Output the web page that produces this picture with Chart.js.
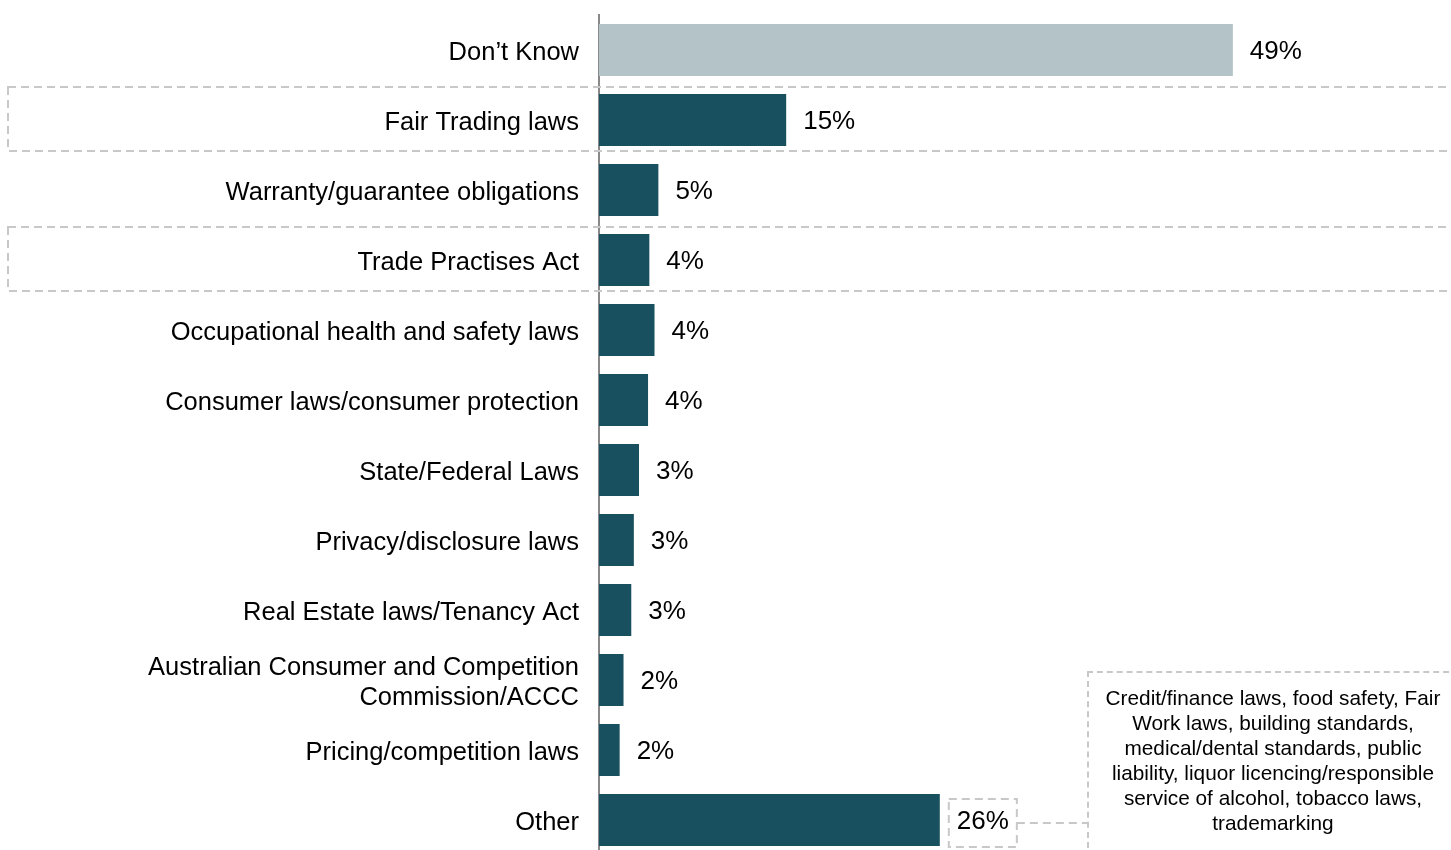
<!DOCTYPE html>
<html>
<head>
<meta charset="utf-8">
<script src="https://cdn.jsdelivr.net/npm/chart.js@4"></script>
<style>
  html, body { margin: 0; padding: 0; background: #fff; overflow: hidden; }
  #wrap { position: relative; width: 1451px; height: 860px; }
  #note {
    position: absolute; left: 1087px; top: 671px; width: 368px; height: 171px;
    border: 2px dashed #c8c8c8; box-sizing: content-box;
    font-family: "Liberation Sans", Arial, sans-serif; font-size: 20.8px; line-height: 25px;
    color: #000; text-align: center; padding-top: 12px; white-space: nowrap;
  }
</style>
</head>
<body>
<div id="wrap">
  <canvas id="chart"></canvas>
  <div id="note">Credit/finance laws, food safety, Fair<br>Work laws, building standards,<br>medical/dental standards, public<br>liability, liquor licencing/responsible<br>service of alcohol, tobacco laws,<br>trademarking</div>
</div>
<script>
// categories, values and their printed labels
const categories = [
  'Don\u2019t Know',
  'Fair Trading laws',
  'Warranty/guarantee obligations',
  'Trade Practises Act',
  'Occupational health and safety laws',
  'Consumer laws/consumer protection',
  'State/Federal Laws',
  'Privacy/disclosure laws',
  'Real Estate laws/Tenancy Act',
  ['Australian Consumer and Competition', 'Commission/ACCC'],
  'Pricing/competition laws',
  'Other'
];
const values = [49.1, 14.5, 4.6, 3.9, 4.3, 3.8, 3.1, 2.7, 2.5, 1.9, 1.6, 26.4];
const valueLabels = ['49%', '15%', '5%', '4%', '4%', '4%', '3%', '3%', '3%', '2%', '2%', '26%'];
const highlightRows = [1, 3];      // rows with a dashed frame
const calloutRow = 11;             // "Other" links to the note box

const DARK = '#19505f';
const GREY = '#b4c3c7';
const DASH = '#c8c8c8';
const FONT = '"Liberation Sans", Arial, sans-serif';

const barColors = values.map((v, i) => i === 0 ? GREY : DARK);

const decorations = {
  id: 'decorations',
  beforeDatasetsDraw(chart) {
    const ctx = chart.ctx;
    const y = chart.scales.y;
    ctx.save();
    ctx.setLineDash([8, 5]);
    ctx.strokeStyle = DASH;
    ctx.lineWidth = 2;
    highlightRows.forEach(i => {
      const c = y.getPixelForValue(i);
      ctx.strokeRect(8, c - 33, chart.width + 10, 64);
    });
    ctx.restore();
  },
  afterDatasetsDraw(chart) {
    const ctx = chart.ctx;
    const meta = chart.getDatasetMeta(0);
    ctx.save();
    ctx.font = '26px ' + FONT;
    ctx.fillStyle = '#000';
    ctx.textBaseline = 'middle';
    ctx.textAlign = 'left';
    meta.data.forEach((bar, i) => {
      ctx.fillText(valueLabels[i], bar.x + 17, bar.y + 2);
    });
    // dashed frame around the "Other" label and the connector to the note
    const b = meta.data[calloutRow];
    const w = ctx.measureText(valueLabels[calloutRow]).width;
    ctx.setLineDash([8, 5]);
    ctx.strokeStyle = DASH;
    ctx.lineWidth = 2;
    const left = b.x + 9, right = b.x + 17 + w + 8;
    ctx.strokeRect(left, b.y - 21, right - left, 48);
    ctx.beginPath();
    ctx.moveTo(right, b.y + 3);
    ctx.lineTo(1087, b.y + 3);
    ctx.stroke();
    ctx.restore();
  }
};

new Chart(document.getElementById('chart'), {
  type: 'bar',
  data: {
    labels: categories,
    datasets: [{
      data: values,
      backgroundColor: barColors,
      borderWidth: 0,
      categoryPercentage: 1,
      barPercentage: 0.74
    }]
  },
  options: {
    indexAxis: 'y',
    responsive: true,
    maintainAspectRatio: false,
    animation: false,
    layout: { padding: { top: 15, bottom: 5, left: 0, right: 0 } },
    plugins: { legend: { display: false }, tooltip: { enabled: false } },
    scales: {
      x: { display: false, min: 0, max: 66 },
      y: {
        afterFit: s => { s.width = 599; s.paddingTop = 0; s.paddingBottom = 0; },
        grid: { display: false, drawTicks: false },
        border: { display: true, color: '#898989', width: 2 },
        ticks: {
          padding: 20,
          labelOffset: 3,
          color: '#000',
          font: { family: FONT, size: 25.5, lineHeight: 1.2 },
          autoSkip: false
        }
      }
    }
  },
  plugins: [decorations]
});
</script>
</body>
</html>
